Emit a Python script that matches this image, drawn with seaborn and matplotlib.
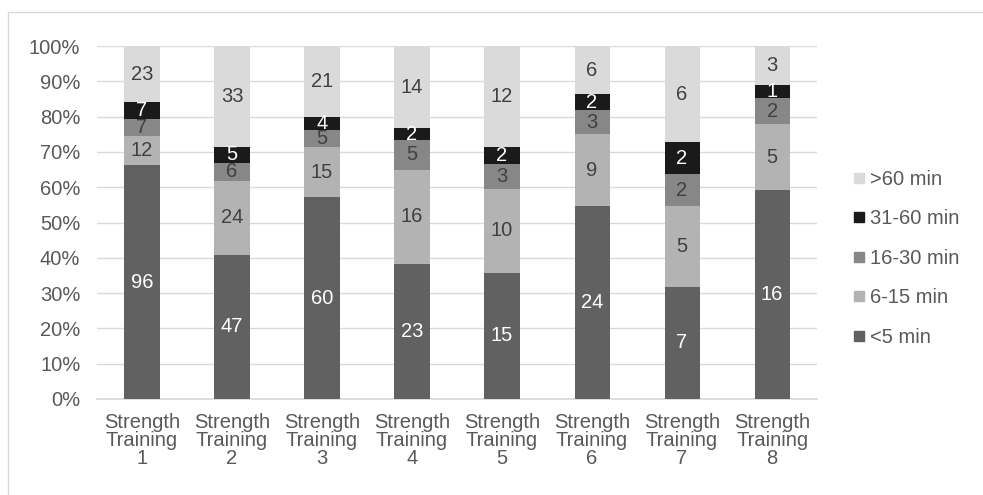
import pandas as pd
import numpy as np
import matplotlib.pyplot as plt
import seaborn as sns
from matplotlib.lines import Line2D

sns.set_theme(style="white")
plt.rcParams['font.family'] = ['Liberation Sans', 'DejaVu Sans']

# Data (counts per session)
sessions = [f"Strength\nTraining\n{i}" for i in range(1, 9)]
series = ["<5 min", "6-15 min", "16-30 min", "31-60 min", ">60 min"]
lt5 = [96, 47, 60, 23, 15, 24, 7, 16]
m6_15 = [12, 24, 15, 16, 10, 9, 5, 5]
m16_30 = [7, 6, 5, 5, 3, 3, 2, 2]
m31_60 = [7, 5, 4, 2, 2, 2, 2, 1]
gt60 = [23, 33, 21, 14, 12, 6, 6, 3]

colors = {"<5 min": "#616161", "6-15 min": "#b3b3b3", "16-30 min": "#878787",
          "31-60 min": "#1a1a1a", ">60 min": "#dadada"}
label_colors = {"<5 min": "white", "6-15 min": "#404040", "16-30 min": "#404040",
                "31-60 min": "white", ">60 min": "#404040"}

df = pd.DataFrame({"session": sessions, "<5 min": lt5, "6-15 min": m6_15,
                   "16-30 min": m16_30, "31-60 min": m31_60, ">60 min": gt60})
counts = df[series]
pct = counts.div(counts.sum(axis=1), axis=0) * 100
cum = pct.cumsum(axis=1)

FS = 14.5

fig = plt.figure(figsize=(9.83, 4.95), dpi=100)
ax = fig.add_axes([0.0987, 0.194, 0.7325, 0.713])

# draw cumulative bars from the top segment down so each overlays the previous
for s in reversed(series):
    sns.barplot(x=df["session"], y=cum[s], color=colors[s], width=0.39,
                ax=ax, saturation=1, linewidth=0, zorder=3)

# value labels in the middle of each segment
for i in range(len(sessions)):
    for s in series:
        top = cum.loc[i, s]
        mid = top - pct.loc[i, s] / 2
        ax.text(i, mid, str(counts.loc[i, s]), ha="center", va="center",
                fontsize=FS, color=label_colors[s], zorder=4)

ax.set_ylim(0, 100)
ax.set_xlim(-0.5, 7.5)
ax.set_yticks(np.arange(0, 101, 10))
ax.set_yticklabels([f"{v}%" for v in range(0, 101, 10)])
ax.yaxis.grid(True, color="#d9d9d9", linewidth=1, zorder=0)
ax.set_axisbelow(True)
for sp in ["top", "right", "left"]:
    ax.spines[sp].set_visible(False)
ax.spines["bottom"].set_color("#d9d9d9")
ax.tick_params(axis="both", length=0, labelsize=FS, labelcolor="#595959")
ax.tick_params(axis="y", pad=12)
ax.tick_params(axis="x", pad=10)
ax.set_xlabel("")
ax.set_ylabel("")
for t in ax.get_xticklabels():
    t.set_linespacing(0.95)

handles = [Line2D([0], [0], marker="s", linestyle="", markersize=7,
                  markerfacecolor=colors[s], markeredgecolor=colors[s])
           for s in reversed(series)]
leg = fig.legend(handles, list(reversed(series)), loc="upper left",
                 bbox_to_anchor=(0.845, 0.694), frameon=False, fontsize=FS,
                 handletextpad=0.05, labelspacing=1.02, handlelength=1.0)
for t in leg.get_texts():
    t.set_color("#595959")

# light outer frame (left and top edges only)
fig.add_artist(Line2D([8 / 983, 8 / 983], [0, 1 - 12 / 495],
                      transform=fig.transFigure, color="#d9d9d9", linewidth=1))
fig.add_artist(Line2D([8 / 983, 1], [1 - 12 / 495, 1 - 12 / 495],
                      transform=fig.transFigure, color="#d9d9d9", linewidth=1))

fig.savefig("out.png", dpi=100)
